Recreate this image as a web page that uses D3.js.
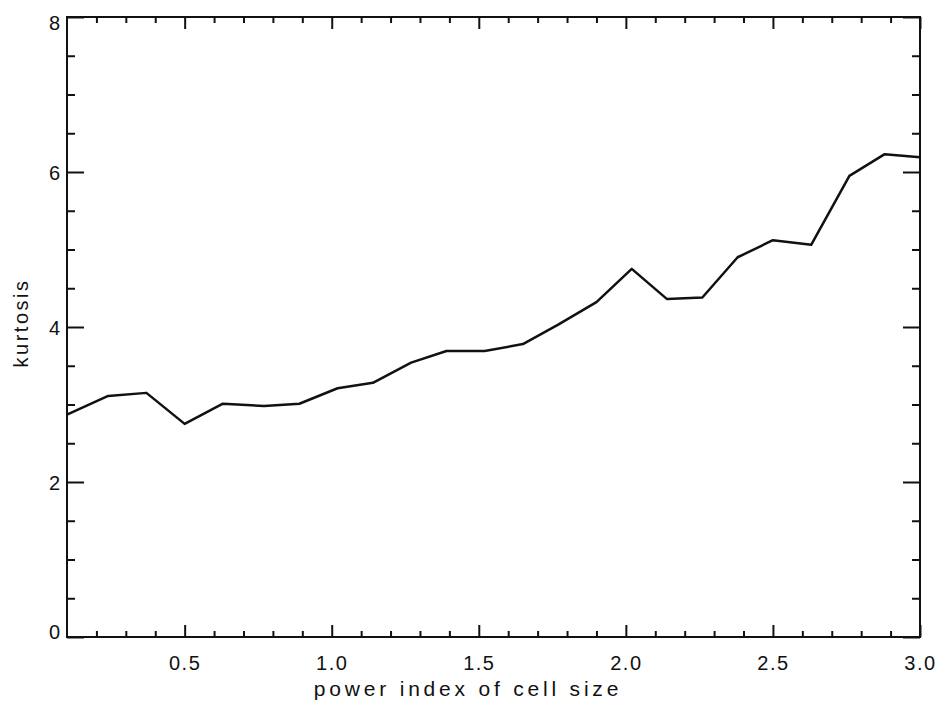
<!DOCTYPE html>
<html>
<head>
<meta charset="utf-8">
<script src="https://cdn.jsdelivr.net/npm/d3@7"></script>
<style>
  body { margin: 0; background: #fff; }
  svg text { font-family: "Liberation Sans", Arial, sans-serif; fill: #111; }
  .axis path, .axis line { stroke: #111; }
  .axis text { font-size: 20px; }
  .x-axis text { letter-spacing: 1.5px; }
</style>
</head>
<body>
<svg id="chart" width="937" height="707"></svg>
<script>
// data
const cellPower = [0.10, 0.24, 0.37, 0.50, 0.63, 0.77, 0.89, 1.02, 1.14, 1.27, 1.39, 1.52,
                   1.65, 1.77, 1.90, 2.02, 2.14, 2.26, 2.38, 2.50, 2.63, 2.76, 2.88, 3.00];
const kurtosis = [2.87, 3.11, 3.15, 2.75, 3.01, 2.98, 3.01, 3.21, 3.28, 3.54, 3.69, 3.69,
                  3.78, 4.03, 4.32, 4.75, 4.36, 4.38, 4.90, 5.12, 5.06, 5.95, 6.23, 6.19];

const xMajor = [0.5, 1.0, 1.5, 2.0, 2.5, 3.0];
const xMinor = [0.2, 0.3, 0.4, 0.6, 0.7, 0.8, 0.9, 1.1, 1.2, 1.3, 1.4, 1.6, 1.7, 1.8, 1.9,
                2.1, 2.2, 2.3, 2.4, 2.6, 2.7, 2.8, 2.9];
const yMajor = [0, 2, 4, 6, 8];
const yMinor = [0.5, 1, 1.5, 2.5, 3, 3.5, 4.5, 5, 5.5, 6.5, 7, 7.5];

// layout
const margin = { top: 17, right: 17, bottom: 70, left: 67 },
      width = 937 - margin.left - margin.right,
      height = 707 - margin.top - margin.bottom;

const svg = d3.select("#chart")
    .append("g")
    .attr("transform", `translate(${margin.left},${margin.top})`);

const x = d3.scaleLinear().domain([0.1, 3.0]).range([0, width]);
const y = d3.scaleLinear().domain([0, 8]).range([height, 0]);

// frame
svg.append("rect")
    .attr("width", width)
    .attr("height", height)
    .attr("fill", "none")
    .attr("stroke", "#111")
    .attr("stroke-width", 2);

// helper: inward ticks, no domain path
function ticks(axis, vals, size, labels, pad) {
    return axis.tickValues(vals)
        .tickSizeInner(-size)
        .tickSizeOuter(0)
        .tickPadding(pad || 0)
        .tickFormat(labels || (() => ""));
}

const fmtX = d3.format(".1f");

// bottom
svg.append("g").attr("class", "axis x-axis")
    .attr("transform", `translate(0,${height})`)
    .call(ticks(d3.axisBottom(x), xMinor, 6, null))
    .call(g => g.select(".domain").remove());
svg.append("g").attr("class", "axis x-axis")
    .attr("transform", `translate(0,${height})`)
    .call(ticks(d3.axisBottom(x), xMajor, 12, fmtX, 19))
    .call(g => g.select(".domain").remove());

// top (mirror)
svg.append("g").attr("class", "axis")
    .call(ticks(d3.axisTop(x), xMinor, 6, null))
    .call(g => g.select(".domain").remove());
svg.append("g").attr("class", "axis")
    .call(ticks(d3.axisTop(x), xMajor, 12, null))
    .call(g => g.select(".domain").remove());

// left
svg.append("g").attr("class", "axis")
    .call(ticks(d3.axisLeft(y), yMinor, 8, null))
    .call(g => g.select(".domain").remove());
svg.append("g").attr("class", "axis y-left")
    .call(ticks(d3.axisLeft(y), yMajor, 17, d3.format("d"), 7))
    .call(g => g.select(".domain").remove());

// end labels sit inside the frame, like the original plot
svg.selectAll(".y-left .tick text")
    .attr("dy", d => d === 8 ? "0.6em" : d === 0 ? "0.05em" : "0.36em");

// right (mirror)
svg.append("g").attr("class", "axis")
    .attr("transform", `translate(${width},0)`)
    .call(ticks(d3.axisRight(y), yMinor, 8, null))
    .call(g => g.select(".domain").remove());
svg.append("g").attr("class", "axis")
    .attr("transform", `translate(${width},0)`)
    .call(ticks(d3.axisRight(y), yMajor, 17, null))
    .call(g => g.select(".domain").remove());

svg.selectAll(".axis line").attr("stroke-width", 2);
svg.selectAll(".axis .tick text")
    .filter(function () { return this.textContent === ""; })
    .remove();

// the line
const line = d3.line()
    .x((d, i) => x(cellPower[i]))
    .y(d => y(d));

svg.append("path")
    .datum(kurtosis)
    .attr("d", line)
    .attr("fill", "none")
    .attr("stroke", "#111")
    .attr("stroke-width", 2.5)
    .attr("stroke-linejoin", "round");

// axis titles
svg.append("text")
    .attr("x", 468 - margin.left)
    .attr("y", height + 59)
    .attr("text-anchor", "middle")
    .style("font-size", "21px")
    .style("letter-spacing", "3.8px")
    .text("power index of cell size");

svg.append("text")
    .attr("transform", "rotate(-90)")
    .attr("x", -(323 - margin.top))
    .attr("y", -margin.left + 28)
    .attr("text-anchor", "middle")
    .style("font-size", "20px")
    .style("letter-spacing", "2.5px")
    .text("kurtosis");
</script>
</body>
</html>
